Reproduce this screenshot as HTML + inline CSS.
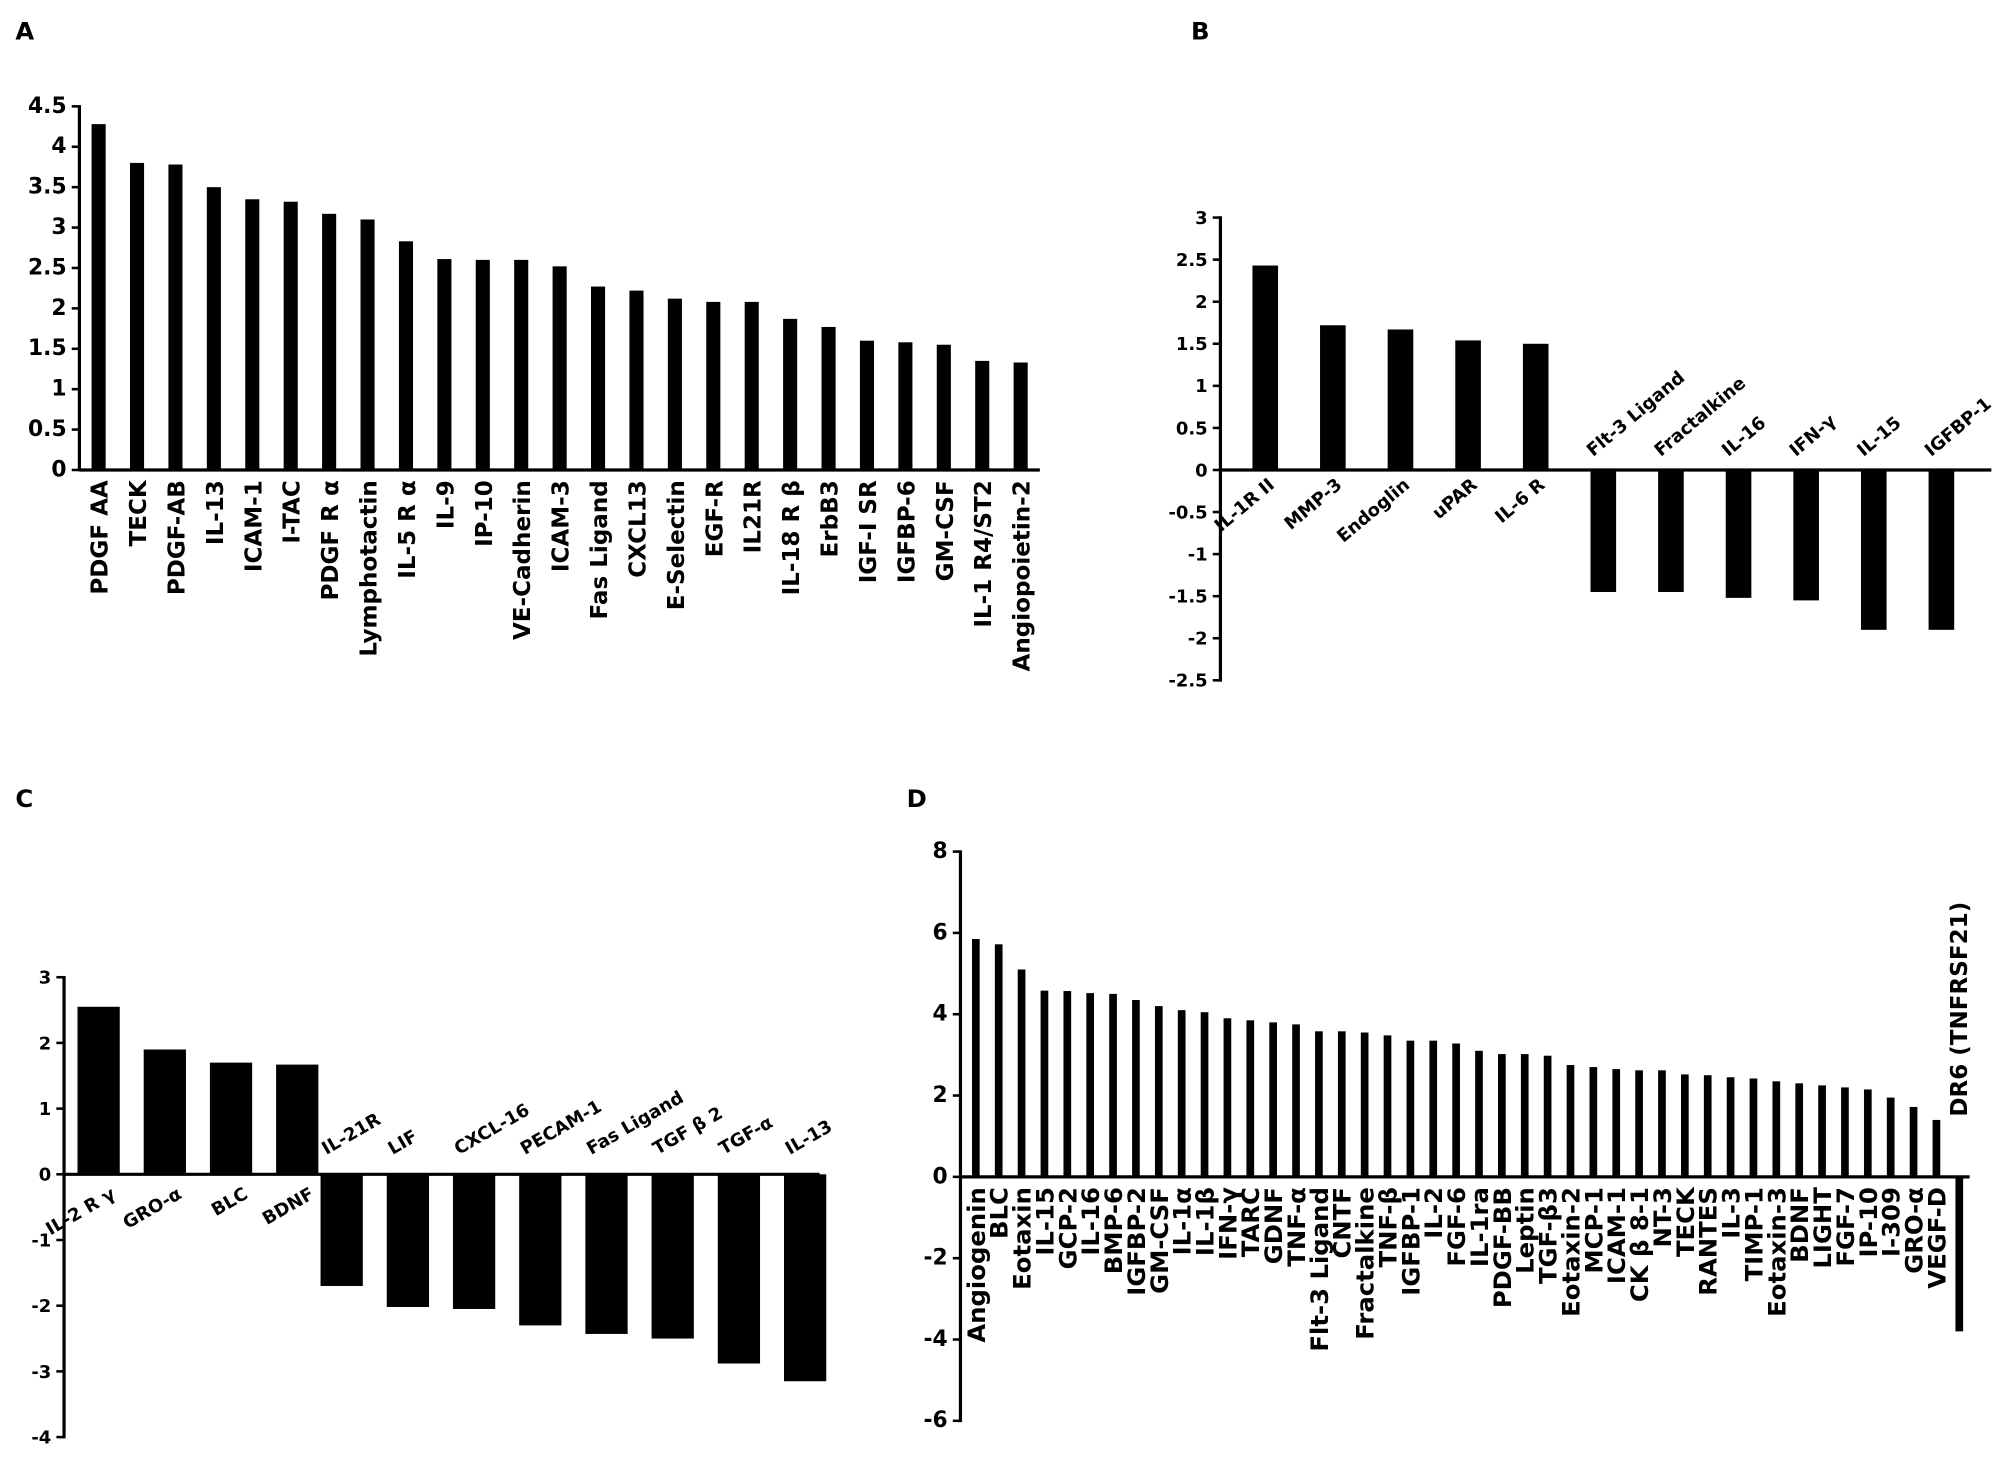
<!DOCTYPE html>
<html><head><meta charset="utf-8"><style>
html,body{margin:0;padding:0;background:#fff}
svg{display:block}
text{font-family:"DejaVu Sans","Liberation Sans",sans-serif;font-weight:bold;fill:#000}
</style></head><body>
<svg id="chart" width="2008" height="1465" viewBox="0 0 1568 1144" xmlns="http://www.w3.org/2000/svg">
<text x="12" y="31" font-size="19">A</text>
<text x="930" y="31" font-size="19">B</text>
<text x="12" y="630" font-size="19">C</text>
<text x="708" y="630" font-size="19">D</text>
</svg>
<script>
const aLabels=["PDGF AA","TECK","PDGF-AB","IL-13","ICAM-1","I-TAC","PDGF R α","Lymphotactin","IL-5 R α","IL-9","IP-10","VE-Cadherin","ICAM-3","Fas Ligand","CXCL13","E-Selectin","EGF-R","IL21R","IL-18 R β","ErbB3","IGF-I SR","IGFBP-6","GM-CSF","IL-1 R4/ST2","Angiopoietin-2"];
const aValues=[4.28,3.8,3.78,3.5,3.35,3.32,3.17,3.1,2.83,2.61,2.6,2.6,2.52,2.27,2.22,2.12,2.08,2.08,1.87,1.77,1.6,1.58,1.55,1.35,1.33];
const aTicks=["0","0.5","1","1.5","2","2.5","3","3.5","4","4.5"];
const bLabels=["IL-1R II","MMP-3","Endoglin","uPAR","IL-6 R","Flt-3 Ligand","Fractalkine","IL-16","IFN-γ","IL-15","IGFBP-1"];
const bValues=[2.43,1.72,1.67,1.54,1.5,-1.45,-1.45,-1.52,-1.55,-1.9,-1.9];
const bTicks=["-2.5","-2","-1.5","-1","-0.5","0","0.5","1","1.5","2","2.5","3"];
const cLabels=["IL-2 R γ","GRO-α","BLC","BDNF","IL-21R","LIF","CXCL-16","PECAM-1","Fas Ligand","TGF β 2","TGF-α","IL-13"];
const cValues=[2.55,1.9,1.7,1.67,-1.7,-2.02,-2.05,-2.3,-2.43,-2.5,-2.88,-3.15];
const cTicks=["-4","-3","-2","-1","0","1","2","3"];
const dLabels=["Angiogenin","BLC","Eotaxin","IL-15","GCP-2","IL-16","BMP-6","IGFBP-2","GM-CSF","IL-1α","IL-1β","IFN-γ","TARC","GDNF","TNF-α","Flt-3 Ligand","CNTF","Fractalkine","TNF-β","IGFBP-1","IL-2","FGF-6","IL-1ra","PDGF-BB","Leptin","TGF-β3","Eotaxin-2","MCP-1","ICAM-1","CK β 8-1","NT-3","TECK","RANTES","IL-3","TIMP-1","Eotaxin-3","BDNF","LIGHT","FGF-7","IP-10","I-309","GRO-α","VEGF-D","DR6 (TNFRSF21)"];
const dValues=[5.85,5.72,5.1,4.58,4.57,4.52,4.5,4.35,4.2,4.1,4.05,3.9,3.85,3.8,3.75,3.58,3.58,3.55,3.48,3.35,3.35,3.28,3.1,3.02,3.02,2.98,2.75,2.7,2.65,2.62,2.62,2.52,2.5,2.45,2.42,2.35,2.3,2.25,2.2,2.15,1.95,1.72,1.4,-3.8];
const dTicks=["-6","-4","-2","0","2","4","6","8"];

const svg=document.getElementById('chart');
const NS="http://www.w3.org/2000/svg";
function mk(tag,attrs,parent){const e=document.createElementNS(NS,tag);for(const k in attrs)e.setAttribute(k,attrs[k]);(parent||svg).appendChild(e);return e;}

function panel(p){
  const g=mk('g',{});
  
  
  const y=v=>p.zeroY-v*p.unit;
  const ax=mk('line',{x1:p.axisX,x2:p.axisX,y1:y(p.ticks[p.ticks.length-1]*1)-1,y2:y(p.ticks[0]*1)+1,stroke:'#000','stroke-width':2.5},g);
  
  
  const xa=mk('line',{x1:p.axisX,x2:p.xEnd,y1:p.zeroY,y2:p.zeroY,stroke:'#000','stroke-width':2.5},g);
  
  
  p.ticks.forEach(t=>{
    const v=parseFloat(t);
    mk('line',{x1:p.axisX-6,x2:p.axisX,y1:y(v),y2:y(v),stroke:'#000','stroke-width':2},g);
    const tx=mk('text',{x:p.axisX-10,y:y(v)+5,'text-anchor':'end','font-size':p.tickFs},g);
    tx.textContent=t;
    
    
  });
  p.values.forEach((v,i)=>{
    const cx=p.xpos(i);
    const r=mk('rect',{x:cx-p.bw/2,y:Math.min(y(v),p.zeroY),width:p.bw,height:Math.abs(y(v)-p.zeroY),fill:'#000'},g);
    
    
    const t=mk('text',{'font-size':(v<0&&p.negFs)?p.negFs:p.labFs},g);
    t.textContent=p.labels[i];
    
    
    p.placeLabel(t,cx,v,y);
  });
}

panel({name:'panel-a',axisX:62,zeroY:367,unit:63.1,xEnd:812,ticks:aTicks,values:aValues,labels:aLabels,bw:11,tickFs:17,labFs:18,
  xpos:i=>77+i*30,
  placeLabel:(t,cx)=>{t.setAttribute('text-anchor','end');t.setAttribute('transform',`translate(${cx+7},375) rotate(-90)`);}});

panel({name:'panel-b',axisX:953,zeroY:367,unit:65.7,xEnd:1555,ticks:bTicks,values:bValues,labels:bLabels,bw:20,tickFs:14,labFs:14,
  xpos:i=>988+i*52.8,
  placeLabel:(t,cx,v)=>{ if(v>=0){t.setAttribute('text-anchor','end');t.setAttribute('transform',`translate(${cx+8},380) rotate(-40)`);}
    else {t.setAttribute('text-anchor','start');t.setAttribute('transform',`translate(${cx-8},357) rotate(-40)`);} }});

panel({name:'panel-c',axisX:50,zeroY:917,unit:51.3,xEnd:640,ticks:cTicks,values:cValues,labels:cLabels,bw:33,tickFs:14,labFs:14,
  xpos:i=>77+i*51.7-(i>=4?17:0),
  placeLabel:(t,cx,v)=>{ if(v>=0){t.setAttribute('text-anchor','end');t.setAttribute('transform',`translate(${cx+14},935) rotate(-30)`);}
    else {t.setAttribute('text-anchor','start');t.setAttribute('transform',`translate(${cx-12},902) rotate(-30)`);} }});

panel({name:'panel-d',axisX:750,zeroY:919,unit:31.75,xEnd:1538,ticks:dTicks,values:dValues,labels:dLabels,bw:6,tickFs:17,labFs:19,negFs:18,
  xpos:i=>762+i*17.86,
  placeLabel:(t,cx,v)=>{ if(v>=0){t.setAttribute('text-anchor','end');t.setAttribute('transform',`translate(${cx+7},927) rotate(-90)`);}
    else {t.setAttribute('text-anchor','start');t.setAttribute('transform',`translate(${cx+6},872) rotate(-90)`);} }});
</script>
</body></html>
